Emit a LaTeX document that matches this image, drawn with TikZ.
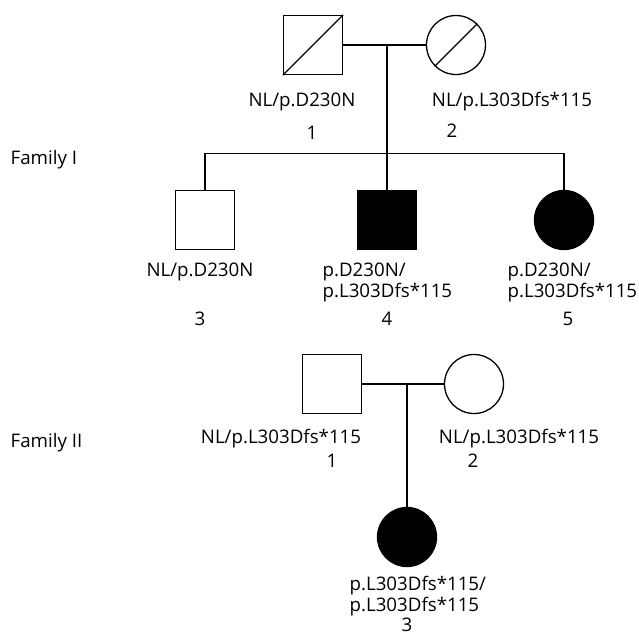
\documentclass[tikz,border=0pt]{standalone}
\usepackage{fontspec}
\setmainfont{Open Sans}
\begin{document}
\begin{tikzpicture}[x=1pt,y=-1pt, line width=1.3pt,
  male/.style={draw, rectangle, minimum size=59pt, inner sep=0pt},
  female/.style={draw, circle, minimum size=59pt, inner sep=0pt},
  affected/.style={fill=black},
  lbl/.style={font=\fontsize{18.7}{20.5}\selectfont, inner sep=0pt, align=left}]
\useasboundingbox (0,0) rectangle (639,635);
% Family I
\node[male] (i1) at (313,45) {};
\node[female] (i2) at (456,45) {};
\draw (i1.south west) -- (i1.north east);
\draw (i2.225) -- (i2.45);
\draw (i1) -- (i2);
\coordinate (m1) at (387,45);
\coordinate (s1) at (387,153.5);
\draw (m1) -- (s1);
\node[male] (i3) at (205,220) {};
\node[male, affected] (i4) at (387,220) {};
\node[female, affected] (i5) at (564,220) {};
\draw (i3.north) -- (i3.north |- s1) -- (i5.north |- s1) -- (i5.north);
\draw (s1) -- (i4.north);
\node[lbl, anchor=base west] (famI) at (10,164) {Family I};
\node[lbl, anchor=base] (g1) at (302,106.5) {NL/p.D230N};
\node[lbl, anchor=base] (n1) at (312,139) {1};
\node[lbl, anchor=base] (g2) at (512,106.5) {NL/p.L303Dfs*115};
\node[lbl, anchor=base] (n2) at (452,137) {2};
\node[lbl, anchor=base] (g3) at (200,276.7) {NL/p.D230N};
\node[lbl, anchor=base] (n3) at (200,325) {3};
\node[lbl, anchor=base west] (g4) at (322,297.2) {p.D230N/\\p.L303Dfs*115};
\node[lbl, anchor=base] (n4) at (387,325) {4};
\node[lbl, anchor=base west] (g5) at (507,297.2) {p.D230N/\\p.L303Dfs*115};
\node[lbl, anchor=base] (n5) at (568,325) {5};
% Family II
\node[male] (f1) at (332,384) {};
\node[female] (f2) at (474,384) {};
\draw (f1) -- (f2);
\coordinate (m2) at (407,384);
\node[female, affected] (f3) at (407,537) {};
\draw (m2) -- (f3.north);
\node[lbl, anchor=base west] (famII) at (10,447) {Family II};
\node[lbl, anchor=base] (h1) at (281,443.3) {NL/p.L303Dfs*115};
\node[lbl, anchor=base] (k1) at (332,467.7) {1};
\node[lbl, anchor=base] (h2) at (519,443.3) {NL/p.L303Dfs*115};
\node[lbl, anchor=base] (k2) at (473,467.7) {2};
\node[lbl, anchor=base west] (h3) at (349,611) {p.L303Dfs*115/\\p.L303Dfs*115};
\node[lbl, anchor=base] (k3) at (407,631) {3};
\end{tikzpicture}
\end{document}
